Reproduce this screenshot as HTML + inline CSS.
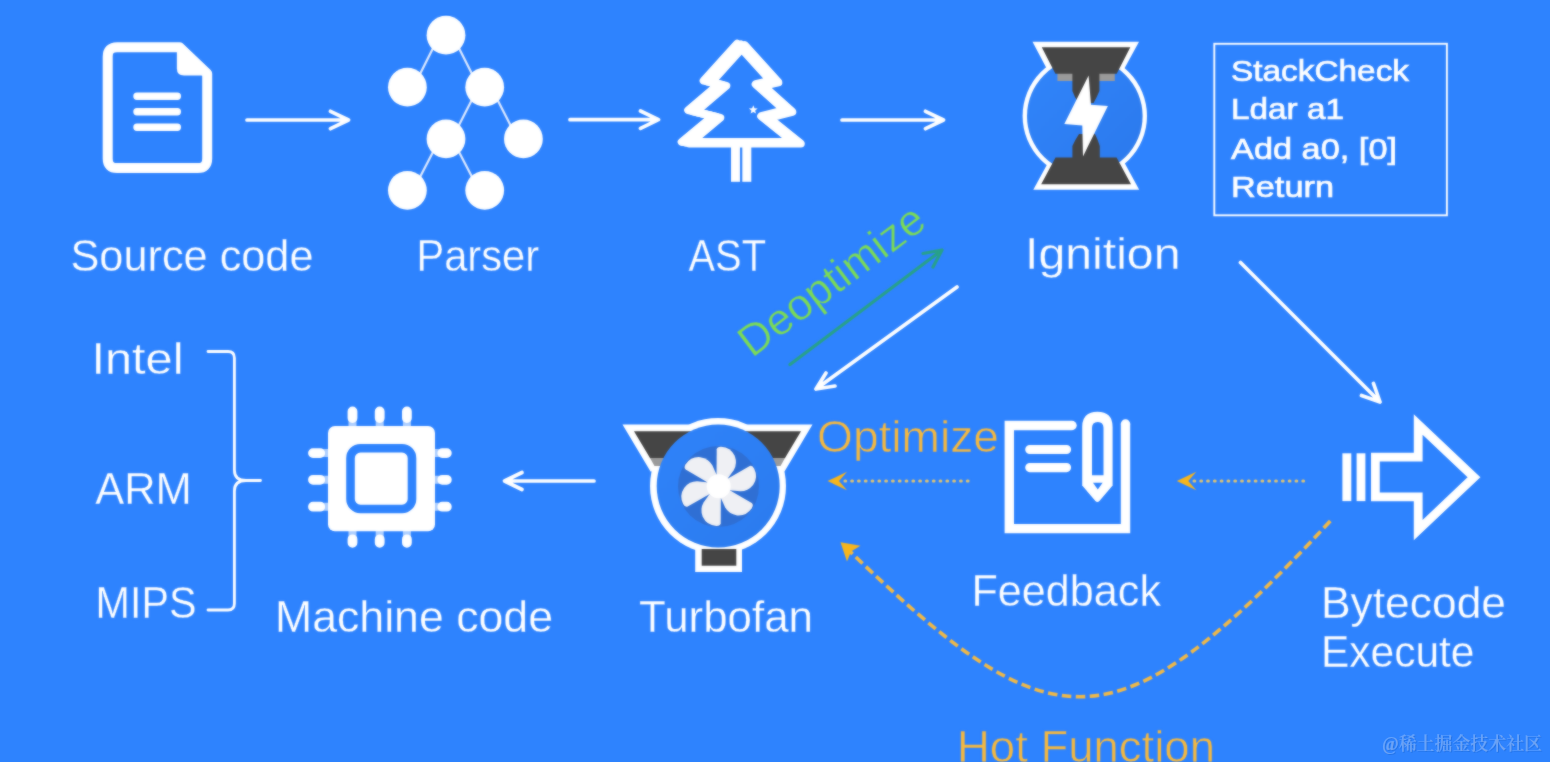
<!DOCTYPE html>
<html lang="en">
<head>
<meta charset="utf-8">
<title>V8 pipeline</title>
<style>
html,body{margin:0;padding:0;background:#2e83fe;overflow:hidden}
body{width:1550px;height:762px;position:relative}
svg{position:absolute;left:0;top:0;display:block}
text{font-family:"Liberation Sans","Noto Sans CJK SC",sans-serif;fill:#fff}
.lbl{font-size:44px;stroke:#2e83fe;stroke-width:.3px}
.code{font-size:30px;stroke:#fff;stroke-width:.7px}
.org{fill:#f6b83e;stroke-width:.6px}
.grn{fill:#7cdb55;stroke-width:.5px}
.wm{font-family:"Liberation Serif","Noto Serif CJK SC",serif;font-size:18px;font-weight:600;fill:rgba(255,255,255,.25)}
.ar{fill:none;stroke:#fff;stroke-width:3.7;stroke-linecap:round;stroke-linejoin:round}
</style>
</head>
<body>
<svg id="stage" width="1550" height="762" viewBox="0 0 1550 762">
<defs>
  <filter id="wmsh" x="-5%" y="-20%" width="110%" height="140%"><feDropShadow dx="1" dy="1" stdDeviation="0.35" flood-color="#0a3d8f" flood-opacity="0.8"/></filter>
  <filter id="soft" x="0" y="0" width="100%" height="100%" color-interpolation-filters="sRGB"><feGaussianBlur stdDeviation="0.8" result="b"/><feComposite in="b" in2="SourceGraphic" operator="arithmetic" k1="0" k2="0.55" k3="0.45" k4="0"/></filter>
  <linearGradient id="ig" x1="0" y1="0" x2="1" y2="1"><stop offset="0" stop-color="#3185fb"/><stop offset="1" stop-color="#2b79ec"/></linearGradient>
  <linearGradient id="tf" x1="0" y1="0" x2="1" y2="1"><stop offset="0" stop-color="#2f83fa"/><stop offset="1" stop-color="#2b7bee"/></linearGradient>
</defs>
<rect width="1550" height="762" fill="#2e83fe"/>
<g id="art" filter="url(#soft)">

<!-- ARROWS -->
<g class="ar">
  <path d="M247 120H348M330.500 111.300L348.500 120L330.500 128.700"/>
  <path d="M570 119.700H658M640.500 111L658.500 119.700L640.500 128.400"/>
  <path d="M842 120H943M925.500 111.300L943.500 120L925.500 128.700"/>
  <path d="M594 481H505M522 472.5L504.5 481L522 489.5"/>
  <path d="M1240.500 262.500L1380 402M1361.500 395.500L1380 402L1373.500 383.500"/>
  <path d="M957 287L816 389M826 373L816 389L835 386"/>
</g>
<g class="ar" style="stroke:#27a47c;stroke-width:3.2;opacity:.9">
  <path d="M790 364.500L942 250M923 253.500L942 250L933 267"/>
</g>

<!-- SOURCE CODE ICON -->
<g id="doc">
  <path d="M117.200 47.200H179.400L207.200 73.700V158.600Q207.200 168.100 197.700 168.100H117.200Q107.700 168.100 107.700 158.600V56.700Q107.700 47.200 117.200 47.200Z" fill="none" stroke="#fff" stroke-width="10" stroke-linejoin="round"/>
  <path d="M176.900 43H181.500L211 71.500V75.500H184Q176.900 75.500 176.900 68.500Z" fill="#fff"/>
  <path d="M137 96.300H177.300M137 111.800H177.300M137 127.300H177.300" stroke="#fff" stroke-width="7.400" stroke-linecap="round"/>
</g>

<!-- PARSER ICON -->
<g id="parser">
  <path d="M433.5 47.2L419.4 75.2M458.5 47.2L472.7 75.2M472.2 99.2L458.0 126.9M497.2 99.2L511.4 126.9M433.5 150.9L419.4 178.3M458.5 150.9L472.7 178.3" stroke="#dfeaff" stroke-width="2.2" fill="none"/>
  <g fill="#fff">
    <circle cx="446.0" cy="35.2" r="19.4"/>
    <circle cx="407.4" cy="87.2" r="19.4"/>
    <circle cx="484.7" cy="87.2" r="19.4"/>
    <circle cx="446.0" cy="138.9" r="19.4"/>
    <circle cx="523.4" cy="138.9" r="19.4"/>
    <circle cx="407.4" cy="190.3" r="19.4"/>
    <circle cx="484.7" cy="190.3" r="19.4"/>
  </g>
</g>

<!-- AST ICON -->
<g id="ast">
  <g fill="none" stroke="#fff" stroke-width="8" stroke-linejoin="round">
    <path d="M741 44.5L707.5 81.5L722.5 85L692 111L716.5 117L685.5 142.8H797L765 117L788.500 111L759.5 85L774.500 81.5Z" transform="translate(-3.800 -0.800)"/>
    <path d="M741 44.5L707.5 81.5L722.5 85L692 111L716.5 117L685.5 142.8H797L765 117L788.500 111L759.5 85L774.500 81.5Z" transform="translate(3.800 0.800)"/>
    <path d="M741 44.5L707.5 81.5L722.5 85L692 111L716.5 117L685.5 142.8H797L765 117L788.500 111L759.5 85L774.500 81.5Z"/>
  </g>
  <rect x="731" y="146" width="9" height="35.800" fill="#fff"/>
  <rect x="742.300" y="146" width="9" height="35.800" fill="#fff"/>
  <path d="M753.300 105.300L754.500 108.300L757.700 108.500L755.200 110.500L756 113.600L753.300 111.900L750.600 113.600L751.400 110.500L748.900 108.500L752.100 108.300Z" fill="#fff"/>
</g>

<!-- IGNITION ICON -->
<g id="ignition">
  <circle cx="1084.800" cy="116" r="62.200" fill="#fff"/>
  <path d="M1032.500 41.800H1139L1122.500 72H1048.500Z" fill="#fff"/>
  <path d="M1033.300 189.800H1139.200L1123 160H1049.500Z" fill="#fff"/>
  <circle cx="1084.800" cy="116" r="57.800" fill="url(#ig)"/>
  <path d="M1057.400 73H1114.800V81H1057.400Z" fill="#9a9a9a"/>
  <path d="M1041.800 47.300H1130.300L1116.700 73.800H1099.400V91Q1097 97 1093.500 103H1078.500Q1074.500 97 1072.400 91V73.800H1055.400Z" fill="#454545"/>
  <path d="M1041.200 184.300H1131L1116.600 157.400H1099.800V146Q1097.500 139 1095 134H1079Q1075 140 1072.400 146V157.400H1055.500Z" fill="#454545"/>
  <path d="M1088.600 75.500L1064.300 124L1082.300 125.600L1083 156.400L1107.900 106.100L1091 104.800Z" fill="#fff"/>
</g>

<!-- BYTECODE BOX -->
<g id="codebox">
  <rect x="1214.300" y="43.800" width="232.600" height="171.500" fill="none" stroke="#fff" stroke-width="1.900"/>
  <text class="code" x="1231" y="81.200" textLength="178" lengthAdjust="spacingAndGlyphs">StackCheck</text>
  <text class="code" x="1231" y="119.200" textLength="113" lengthAdjust="spacingAndGlyphs">Ldar a1</text>
  <text class="code" x="1231" y="159.300" textLength="166" lengthAdjust="spacingAndGlyphs">Add a0, [0]</text>
  <text class="code" x="1231" y="197.100" textLength="103" lengthAdjust="spacingAndGlyphs">Return</text>
</g>

<!-- LABELS -->
<g id="labels">
  <text class="lbl" x="70.500" y="271.200" textLength="243" lengthAdjust="spacingAndGlyphs">Source code</text>
  <text class="lbl" x="416.500" y="271.200" textLength="122.500" lengthAdjust="spacingAndGlyphs">Parser</text>
  <text class="lbl" x="688.500" y="271.200" textLength="77.500" lengthAdjust="spacingAndGlyphs">AST</text>
  <text class="lbl" x="1025" y="269.200" textLength="155.500" lengthAdjust="spacingAndGlyphs">Ignition</text>
  <text class="lbl" x="91.500" y="374.300" textLength="92" lengthAdjust="spacingAndGlyphs">Intel</text>
  <text class="lbl" x="95.300" y="503.500" textLength="96.500" lengthAdjust="spacingAndGlyphs">ARM</text>
  <text class="lbl" x="95.500" y="617.500" textLength="101" lengthAdjust="spacingAndGlyphs">MIPS</text>
  <text class="lbl" x="275" y="632" textLength="278" lengthAdjust="spacingAndGlyphs">Machine code</text>
  <text class="lbl" x="639" y="632" textLength="174" lengthAdjust="spacingAndGlyphs">Turbofan</text>
  <text class="lbl" x="971.500" y="606.200" textLength="189.500" lengthAdjust="spacingAndGlyphs">Feedback</text>
  <text class="lbl" x="1321" y="618" textLength="185" lengthAdjust="spacingAndGlyphs">Bytecode</text>
  <text class="lbl" x="1321" y="667" textLength="153.500" lengthAdjust="spacingAndGlyphs">Execute</text>
  <text class="lbl org" x="817" y="451.500" textLength="182" lengthAdjust="spacingAndGlyphs">Optimize</text>
  <text class="lbl org" x="957" y="762" textLength="258" lengthAdjust="spacingAndGlyphs">Hot Function</text>
  <text class="lbl grn" x="0" y="0" transform="translate(752 358.500) rotate(-36.900)" textLength="221" lengthAdjust="spacingAndGlyphs">Deoptimize</text>
</g>

<!-- BRACKET -->
<path class="ar" style="stroke-width:2.800" d="M208 351.500H228Q234.400 351.500 234.400 358V470Q234.400 480.500 246 480.500H260.500M246 480.500Q234.400 480.500 234.400 491V603.500Q234.400 610 228 610H208"/>

<!-- CHIP ICON -->
<g id="chip">
  <g stroke="#fff" stroke-width="8" opacity=".6">
    <path d="M352.500 420V428M379.700 420V428M406.900 420V428M352.500 530V537M379.700 530V537M406.900 530V537"/>
    <path d="M322 453.100H330M322 479.800H330M322 506.700H330M433 453.100H440M433 479.800H440M433 506.700H440"/>
  </g>
  <rect x="328" y="426" width="107" height="105.300" rx="7" fill="#fff"/>
  <rect x="350.500" y="448.200" width="61.500" height="60.800" rx="10" fill="none" stroke="#2e83fe" stroke-width="8.600"/>
  <g stroke="#fff" stroke-width="9.800" stroke-linecap="round">
    <path d="M352.500 411.500V418M379.700 411.500V418M406.900 411.500V418"/>
    <path d="M352.500 539.300V542.800M379.700 539.300V542.800M406.900 539.300V542.800"/>
    <path d="M313 453.100H320.200M313 479.800H320.200M313 506.700H320.200"/>
    <path d="M442.300 453.100H446.800M442.300 479.800H446.800M442.300 506.700H446.800"/>
  </g>
</g>

<!-- TURBOFAN ICON -->
<g id="turbofan">
  <path d="M622.500 424.400H812.500L784.500 471.500H650.500Z" fill="#fff"/>
  <circle cx="718" cy="486" r="68" fill="#fff"/>
  <rect x="695.200" y="540" width="46.800" height="32" fill="#fff"/>
  <path d="M634 431.200H801L785 458H650Z" fill="#454545"/>
  <path d="M650 458H785L780.500 466H654.500Z" fill="#9a9a9a"/>
  <rect x="701.700" y="549" width="34.600" height="16.700" fill="#454545"/>
  <circle cx="718.200" cy="486" r="61.500" fill="url(#tf)"/>
  <circle cx="718.500" cy="486.500" r="40.500" fill="#2f6fd4"/>
  <g fill="#eff0f4" transform="translate(718.700 486.300)">
    <path d="M-2.2 -8L-2 -37Q-1.500 -39.800 2.500 -39.600Q12 -39 16 -30.500Q19 -22.500 15 -16L8.500 -7Z" transform="rotate(0)"/>
    <path d="M-2.2 -8L-2 -37Q-1.500 -39.800 2.500 -39.600Q12 -39 16 -30.500Q19 -22.500 15 -16L8.500 -7Z" transform="rotate(60)"/>
    <path d="M-2.2 -8L-2 -37Q-1.500 -39.800 2.500 -39.600Q12 -39 16 -30.500Q19 -22.500 15 -16L8.500 -7Z" transform="rotate(120)"/>
    <path d="M-2.2 -8L-2 -37Q-1.500 -39.800 2.500 -39.600Q12 -39 16 -30.500Q19 -22.500 15 -16L8.500 -7Z" transform="rotate(180)"/>
    <path d="M-2.2 -8L-2 -37Q-1.500 -39.800 2.500 -39.600Q12 -39 16 -30.500Q19 -22.500 15 -16L8.500 -7Z" transform="rotate(240)"/>
    <path d="M-2.2 -8L-2 -37Q-1.500 -39.800 2.500 -39.600Q12 -39 16 -30.500Q19 -22.500 15 -16L8.500 -7Z" transform="rotate(300)"/>
    <circle r="12" fill="#fff"/>
  </g>
</g>

<!-- FEEDBACK ICON -->
<g id="feedback">
  <path d="M1071.500 425.500H1009.300V528.600H1125.500V423.500" fill="none" stroke="#fff" stroke-width="9.400" stroke-linejoin="miter"/>
  <circle cx="1072" cy="425.500" r="4.700" fill="#fff"/>
  <circle cx="1125.500" cy="424" r="4.700" fill="#fff"/>
  <path d="M1029.800 449.500H1066.500M1029.800 467.600H1066.500" fill="none" stroke="#fff" stroke-width="9.200" stroke-linecap="round"/>
  <path d="M1082.200 427Q1082.200 411.800 1097.400 411.800Q1112.600 411.800 1112.600 427V485.500L1099.400 501Q1097.400 502.800 1095.400 501L1082.200 485.500Z" fill="#fff"/>
  <path d="M1092 428Q1092 422 1097.800 422Q1103.500 422 1103.500 428V475.200H1092Z" fill="#2e83fe"/>
  <path d="M1093 482.800H1102.600L1097.800 489.500Z" fill="#2e83fe"/>
</g>

<!-- EXECUTE ICON -->
<g id="exec">
  <rect x="1342.400" y="453.300" width="8.900" height="47.800" fill="#fff"/>
  <rect x="1356.600" y="453.300" width="8.800" height="47.800" fill="#fff"/>
  <path d="M1375.400 457.100H1418.200V424.500L1474 477.300L1418.200 530.100V496.800H1375.400Z" fill="none" stroke="#fff" stroke-width="8.800" stroke-linejoin="miter" stroke-miterlimit="6"/>
</g>

<!-- ORANGE DOTTED ARROWS -->
<g id="orange">
  <g fill="none" stroke="#e6c66c" stroke-width="3.200" stroke-linecap="round">
    <path d="M968 481H840" stroke-dasharray="0.600 6.200"/>
    <path d="M1303.500 481H1189" stroke-dasharray="0.600 6.200"/>
  </g>
  <path d="M1330.3 521C1111.5 756.3 1051.3 746.1 843.5 545.2" fill="none" stroke="#f3b944" stroke-width="3.600" stroke-dasharray="9.500 4.500"/>
  <g fill="#f7b51c">
    <path d="M827.500 481L847 471.800L839 481L847 490.300Z"/>
    <path d="M1176.800 481L1196.300 471.800L1188.300 481L1196.300 490.300Z"/>
    <path d="M840.500 542.300L860.500 545.700L851 551.500L847 561.500Z"/>
  </g>
</g>

</g>

<!-- WATERMARK -->
<text class="wm" filter="url(#wmsh)" x="1382" y="750.300" textLength="160" lengthAdjust="spacingAndGlyphs">@稀土掘金技术社区</text>
</svg>
</body>
</html>
